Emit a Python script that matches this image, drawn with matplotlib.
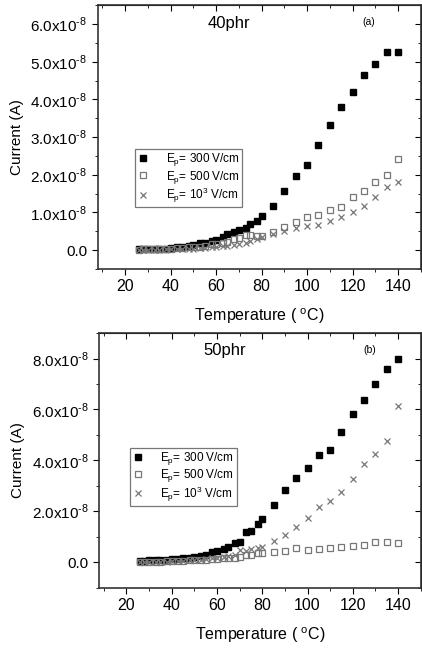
import numpy as np
import matplotlib.pyplot as plt
from matplotlib.ticker import MultipleLocator, FuncFormatter

plt.rcParams['font.family'] = ['Liberation Sans', 'DejaVu Sans']
plt.rcParams['mathtext.fontset'] = 'custom'
plt.rcParams['mathtext.rm'] = 'Liberation Sans'
plt.rcParams['mathtext.sf'] = 'Liberation Sans'

# Temperature grid (degC)
temp = [26, 28, 30, 33, 35, 38, 40, 43, 45, 48, 50, 53, 55, 58, 60, 63, 65, 68, 70,
        73, 75, 78, 80, 85, 90, 95, 100, 105, 110, 115, 120, 125, 130, 135, 140]

# 40 phr, current in 1e-8 A
a_300 = [0.02, 0.02, 0.03, 0.03, 0.04, 0.04, 0.05, 0.07, 0.08, 0.12, 0.13, 0.18, 0.20,
         0.25, 0.28, 0.36, 0.42, 0.49, 0.52, 0.58, 0.69, 0.78, 0.91, 1.16, 1.56, 1.97,
         2.27, 2.80, 3.32, 3.81, 4.19, 4.65, 4.95, 5.26, 5.26]
a_500 = [0.01, 0.02, 0.02, 0.03, 0.03, 0.04, 0.04, 0.05, 0.06, 0.07, 0.08, 0.09, 0.10,
         0.15, 0.17, 0.20, 0.22, 0.30, 0.33, 0.40, 0.40, 0.37, 0.38, 0.49, 0.60, 0.74,
         0.89, 0.93, 1.07, 1.14, 1.40, 1.57, 1.82, 2.00, 2.43]
a_1000 = [0.00, 0.01, 0.01, 0.01, 0.01, 0.02, 0.02, 0.02, 0.03, 0.03, 0.04, 0.05, 0.05,
          0.07, 0.08, 0.10, 0.11, 0.14, 0.17, 0.20, 0.23, 0.30, 0.34, 0.42, 0.51, 0.58,
          0.65, 0.67, 0.78, 0.87, 1.00, 1.18, 1.40, 1.67, 1.82]

# 50 phr, current in 1e-8 A
b_300 = [0.05, 0.06, 0.07, 0.08, 0.09, 0.10, 0.11, 0.13, 0.15, 0.18, 0.20, 0.26, 0.30,
         0.39, 0.43, 0.52, 0.59, 0.76, 0.81, 1.18, 1.22, 1.50, 1.70, 2.26, 2.84, 3.29,
         3.71, 4.21, 4.41, 5.10, 5.84, 6.38, 6.99, 7.58, 8.00]
b_500 = [0.01, 0.02, 0.02, 0.03, 0.03, 0.04, 0.04, 0.05, 0.06, 0.07, 0.08, 0.09, 0.10,
         0.12, 0.13, 0.15, 0.16, 0.18, 0.22, 0.28, 0.30, 0.38, 0.35, 0.39, 0.43, 0.55,
         0.50, 0.52, 0.55, 0.59, 0.63, 0.69, 0.78, 0.81, 0.76]
b_1000 = [0.00, 0.01, 0.02, 0.02, 0.03, 0.03, 0.04, 0.05, 0.06, 0.07, 0.08, 0.10, 0.12,
          0.15, 0.18, 0.22, 0.25, 0.30, 0.48, 0.45, 0.52, 0.55, 0.59, 0.85, 1.08, 1.37,
          1.73, 2.16, 2.39, 2.75, 3.27, 3.86, 4.25, 4.77, 6.12]

labels = [r'E$_{\rm p}$= 300 V/cm', r'E$_{\rm p}$= 500 V/cm', r'E$_{\rm p}$= 10$^{\rm 3}$ V/cm']


def sci(v, pos):
    return '%.1fx10$^{\\rm \u2010 8}$' % v if abs(v) > 1e-9 else '0.0'


def panel(ax, s1, s2, s3, ylim, ymaj, tag, letter, tagx, legpos):
    ax.plot(temp, s1, 's', color='black', ms=4, label=labels[0])
    ax.plot(temp, s2, 's', mfc='none', mec='#777777', ms=4.2, mew=0.9, label=labels[1])
    ax.plot(temp, s3, 'x', color='#777777', ms=5, mew=0.9, label=labels[2])
    ax.set_xlim(8, 150)
    ax.set_ylim(*ylim)
    ax.xaxis.set_major_locator(MultipleLocator(20))
    ax.xaxis.set_minor_locator(MultipleLocator(10))
    ax.yaxis.set_major_locator(MultipleLocator(ymaj))
    ax.yaxis.set_minor_locator(MultipleLocator(ymaj / 2))
    ax.yaxis.set_major_formatter(FuncFormatter(sci))
    ax.tick_params(which='both', direction='out', top=False, right=False, labelsize=11)
    ax.tick_params(axis='x', labelsize=11.5)
    ax.tick_params(which='major', length=4)
    ax.tick_params(which='minor', length=2)
    ax2 = ax.secondary_xaxis('top')
    ax2.xaxis.set_major_locator(MultipleLocator(20))
    ax2.xaxis.set_minor_locator(MultipleLocator(10))
    ax2.tick_params(which='both', direction='in', labeltop=False)
    ax2.tick_params(which='major', length=4)
    ax2.tick_params(which='minor', length=2)
    ay2 = ax.secondary_yaxis('right')
    ay2.yaxis.set_major_locator(MultipleLocator(ymaj))
    ay2.yaxis.set_minor_locator(MultipleLocator(ymaj / 2))
    ay2.tick_params(which='both', direction='in', labelright=False)
    ay2.tick_params(which='major', length=4)
    ay2.tick_params(which='minor', length=2)
    for sp in ax.spines.values():
        sp.set_linewidth(1.2)
        sp.set_color('#333333')
    ax.set_xlabel('Temperature ( $^{\\rm o}$C)', fontsize=11.5, labelpad=9)
    ax.set_ylabel('Current (A)', fontsize=11, labelpad=5)
    ax.text(tagx, 0.93, tag, transform=ax.transAxes, fontsize=12, ha='center', va='center')
    ax.text(0.84, 0.935, letter, transform=ax.transAxes, fontsize=7.5, ha='center', va='center')
    leg = ax.legend(loc='upper left', bbox_to_anchor=legpos, fontsize=8.5, frameon=True,
                    fancybox=False, edgecolor='#555555', handletextpad=1.4,
                    borderpad=0.2, labelspacing=0.02, handlelength=1.0,
                    borderaxespad=0)
    leg.get_frame().set_linewidth(0.9)


fig = plt.figure(figsize=(4.22, 6.48), dpi=100)
ax_a = fig.add_axes([0.232, 0.585, 0.765, 0.407])
ax_b = fig.add_axes([0.235, 0.093, 0.762, 0.393])

panel(ax_a, a_300, a_500, a_1000, (-0.5, 6.5), 1.0, '40phr', '(a)', 0.405, (0.115, 0.455))
panel(ax_b, b_300, b_500, b_1000, (-1.0, 9.0), 2.0, '50phr', '(b)', 0.39, (0.095, 0.55))

plt.savefig('out.png', dpi=100)
